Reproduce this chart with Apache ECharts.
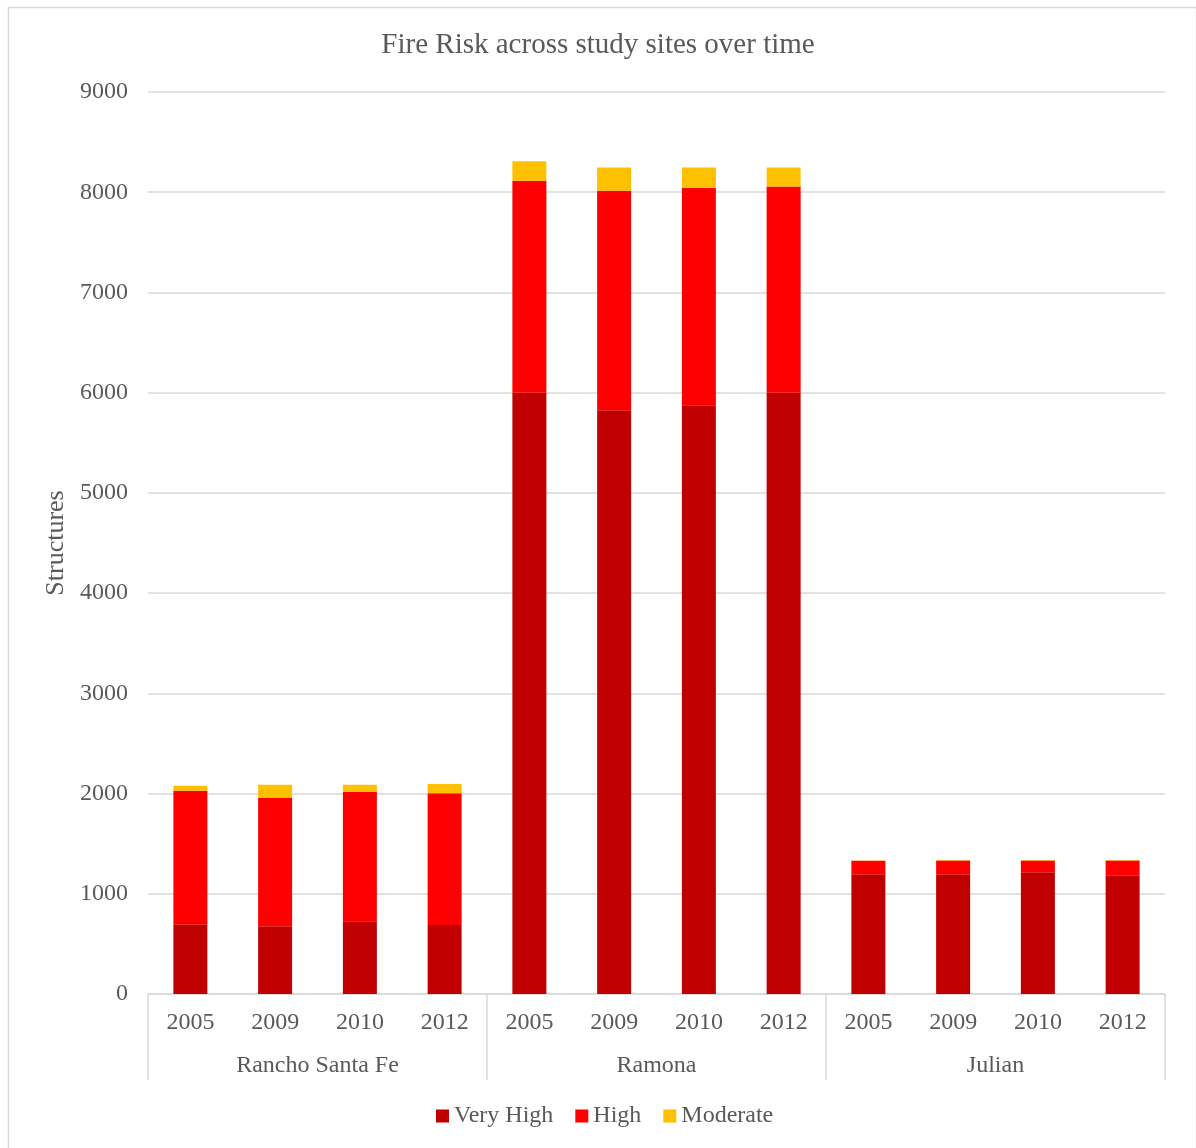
<!DOCTYPE html>
<html>
<head>
<meta charset="utf-8">
<title>Fire Risk across study sites over time</title>
<script src="https://cdn.jsdelivr.net/npm/echarts@6/dist/echarts.min.js"></script>
<style>
  html, body { margin: 0; padding: 0; background: #fff; }
  #chart { width: 1196px; height: 1148px; }
</style>
</head>
<body>
<div id="chart"></div>
<script>
// Study sites and survey years (each site shows four years)
const sites = ['Rancho Santa Fe', 'Ramona', 'Julian'];
const years = ['2005', '2009', '2010', '2012'];

// Number of structures per risk class, ordered site by site, year by year
const veryHigh = [695, 676, 726, 689, 6000, 5825, 5875, 6000, 1195, 1195, 1215, 1185];
const high     = [1334, 1280, 1290, 1314, 2114, 2189, 2169, 2057, 135, 138, 118, 148];
const moderate = [50, 133, 73, 93, 196, 233, 203, 190, 2, 4, 4, 3];

const yTicks = { min: 0, max: 9000, interval: 1000 };

const yearLabels = [];
sites.forEach(() => years.forEach(y => yearLabels.push(y)));

const font = 'Liberation Serif, Times New Roman, serif';
const textColor = '#595959';
const lineColor = '#d9d9d9';

const chart = echarts.init(document.getElementById('chart'), null, { renderer: 'canvas' });

chart.setOption({
  backgroundColor: '#ffffff',
  animation: false,
  textStyle: { fontFamily: font, color: textColor },
  title: {
    text: 'Fire Risk across study sites over time',
    left: 'center',
    top: 26,
    textStyle: { fontFamily: font, fontWeight: 'normal', fontSize: 29, color: textColor }
  },
  graphic: [{
    type: 'rect',
    left: 6, top: 5,
    shape: { width: 1188, height: 1170 },
    style: { fill: null, stroke: lineColor, lineWidth: 1.5 },
    silent: true
  }],
  legend: {
    bottom: 15,
    left: 431,
    itemWidth: 13,
    itemHeight: 13,
    itemGap: 22,
    icon: 'rect',
    textStyle: { fontFamily: font, fontSize: 24, color: textColor },
    data: ['Very High', 'High', 'Moderate']
  },
  grid: { left: 148, right: 31, top: 92, bottom: 154, containLabel: false },
  xAxis: [
    {
      type: 'category',
      data: yearLabels,
      position: 'bottom',
      axisLine: { show: true, lineStyle: { color: lineColor, width: 1.5 } },
      axisTick: { show: false },
      axisLabel: { fontFamily: font, fontSize: 24, color: textColor, margin: 17 },
      splitLine: { show: false }
    },
    {
      type: 'category',
      data: sites,
      position: 'bottom',
      offset: 0,
      axisLine: { show: false },
      axisTick: { show: true, length: 86, lineStyle: { color: lineColor, width: 1.5 } },
      axisLabel: { fontFamily: font, fontSize: 24, color: textColor, margin: 60 },
      splitLine: { show: false }
    }
  ],
  yAxis: {
    type: 'value',
    min: yTicks.min,
    max: yTicks.max,
    interval: yTicks.interval,
    name: 'Structures',
    nameLocation: 'middle',
    nameGap: 76,
    nameRotate: 90,
    nameTextStyle: { fontFamily: font, fontSize: 26, color: textColor },
    axisLine: { show: false },
    axisTick: { show: false },
    axisLabel: {
      fontFamily: font, fontSize: 24, color: textColor, margin: 20,
      formatter: v => String(v)
    },
    splitLine: { lineStyle: { color: lineColor, width: 1.5 } }
  },
  series: [
    { name: 'Very High', type: 'bar', stack: 'risk', data: veryHigh, barWidth: 34,
      itemStyle: { color: '#C00000' } },
    { name: 'High', type: 'bar', stack: 'risk', data: high, barWidth: 34,
      itemStyle: { color: '#FF0000' } },
    { name: 'Moderate', type: 'bar', stack: 'risk', data: moderate, barWidth: 34,
      itemStyle: { color: '#FFC000' } }
  ]
});
</script>
</body>
</html>
